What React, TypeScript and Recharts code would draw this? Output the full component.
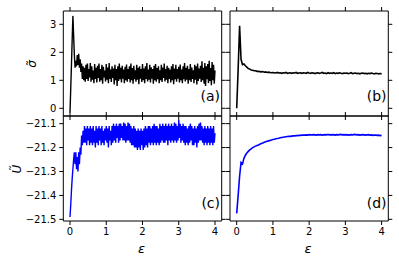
import { LineChart, Line, XAxis, YAxis } from 'recharts'

// strain grid (x) for the noisy runs and the smooth runs
const epsFine = Array.from({ length: 201 }, (_, i) => +(i * 0.02).toFixed(2))
const epsCoarse = Array.from({ length: 101 }, (_, i) => +(i * 0.04).toFixed(2))

const xTicks = [0, 1, 2, 3, 4]
const sigmaTicks = [0, 1, 2, 3]
const energyTicks = [-21.5, -21.4, -21.3, -21.2, -21.1]

// (a) noisy stress
const sigmaNoisy = [
  -0.15, 0.7, 1.55, 2.45, 3.3, 2.6, 1.9, 1.45, 1.7, 1.5,
  1.9, 1.55, 1.95, 1.45, 1.75, 1.3, 1.6, 1.05, 1.5, 1.0,
  1.45, 0.95, 1.55, 1.05, 1.6, 0.98, 1.4, 1.1, 1.62, 0.95,
  1.5, 1.02, 1.35, 0.9, 1.58, 1.05, 1.45, 0.92, 1.52, 1.08,
  1.6, 0.95, 1.4, 1.0, 1.55, 0.88, 1.48, 1.1, 1.35, 0.96,
  1.58, 1.02, 1.46, 0.9, 1.62, 1.05, 1.38, 0.94, 1.5, 1.08,
  1.42, 0.85, 1.55, 1.0, 1.4, 0.8, 1.5, 0.98, 1.6, 1.04,
  1.45, 0.92, 1.52, 1.06, 1.38, 0.9, 1.48, 1.0, 1.56, 0.95,
  1.4, 1.05, 1.5, 0.92, 1.6, 1.0, 1.44, 0.88, 1.52, 1.04,
  1.36, 0.95, 1.55, 1.02, 1.45, 0.86, 1.5, 1.06, 1.4, 0.94,
  1.58, 1.0, 1.42, 0.9, 1.5, 1.05, 1.62, 0.96, 1.38, 1.02,
  1.55, 0.92, 1.46, 1.06, 1.4, 0.88, 1.52, 1.0, 1.58, 0.95,
  1.44, 1.04, 1.5, 0.9, 1.36, 1.0, 1.55, 0.94, 1.46, 1.08,
  1.6, 0.96, 1.4, 1.02, 1.52, 0.9, 1.45, 1.05, 1.38, 0.92,
  1.5, 1.0, 1.58, 0.86, 1.42, 1.04, 1.55, 0.95, 1.4, 1.06,
  1.48, 0.92, 1.56, 1.0, 1.38, 0.9, 1.5, 1.04, 1.62, 0.96,
  1.45, 1.02, 1.52, 0.88, 1.4, 1.0, 1.58, 0.94, 1.46, 1.05,
  1.36, 0.9, 1.55, 1.02, 1.5, 0.85, 1.6, 0.98, 1.42, 1.06,
  1.52, 0.94, 1.68, 1.0, 1.45, 0.88, 1.62, 0.8, 1.5, 1.04,
  1.58, 0.9, 1.7, 0.98, 1.44, 0.82, 1.65, 1.0, 1.55, 0.88,
  1.35,
]

// (b) averaged stress
const sigmaSmooth = [
  0, 1.4, 2.95, 1.75, 1.56, 1.58, 1.52, 1.47, 1.42, 1.4,
  1.37, 1.36, 1.34, 1.34, 1.32, 1.32, 1.31, 1.3, 1.31, 1.29,
  1.3, 1.28, 1.29, 1.28, 1.27, 1.28,
  1.27, 1.26, 1.28, 1.26, 1.27, 1.25, 1.27, 1.26, 1.28, 1.25,
  1.26, 1.27, 1.25, 1.27, 1.26, 1.28, 1.25, 1.26, 1.27, 1.25,
  1.27, 1.26, 1.25, 1.28, 1.26, 1.25, 1.27, 1.26, 1.24, 1.26,
  1.27, 1.25, 1.26, 1.28, 1.25, 1.26, 1.24, 1.27, 1.25, 1.26,
  1.25, 1.27, 1.24, 1.26, 1.25, 1.27, 1.25, 1.24, 1.26, 1.25,
  1.26, 1.24, 1.25, 1.27, 1.24, 1.25, 1.26, 1.24, 1.25, 1.23,
  1.25, 1.26, 1.24, 1.25, 1.23, 1.25, 1.24, 1.26, 1.24, 1.23,
  1.25, 1.24, 1.23, 1.24, 1.23,
]

// (c) noisy energy
const energyNoisy = [
  -21.49, -21.44, -21.38, -21.33, -21.29, -21.25, -21.22, -21.27, -21.22, -21.29,
  -21.24, -21.3, -21.22, -21.27, -21.2, -21.23, -21.15, -21.19, -21.13, -21.18,
  -21.11, -21.18, -21.12, -21.19, -21.11, -21.17, -21.12, -21.19, -21.11, -21.18,
  -21.12, -21.19, -21.11, -21.18, -21.13, -21.2, -21.11, -21.18, -21.12, -21.19,
  -21.11, -21.17, -21.12, -21.19, -21.11, -21.18, -21.13, -21.19, -21.12, -21.17,
  -21.11, -21.18, -21.12, -21.2, -21.11, -21.17, -21.13, -21.19, -21.11, -21.18,
  -21.1, -21.17, -21.11, -21.18, -21.1, -21.16, -21.11, -21.18, -21.1, -21.17,
  -21.1, -21.16, -21.11, -21.17, -21.095, -21.17, -21.1, -21.18, -21.11, -21.17,
  -21.095, -21.17, -21.1, -21.18, -21.11, -21.19, -21.12, -21.19, -21.11, -21.2,
  -21.12, -21.2, -21.13, -21.21, -21.12, -21.2, -21.13, -21.21, -21.12, -21.19,
  -21.13, -21.21, -21.12, -21.2, -21.11, -21.19, -21.12, -21.2, -21.11, -21.18,
  -21.11, -21.19, -21.12, -21.18, -21.11, -21.19, -21.1, -21.18, -21.11, -21.19,
  -21.11, -21.18, -21.12, -21.19, -21.1, -21.18, -21.11, -21.17, -21.1, -21.18,
  -21.11, -21.18, -21.1, -21.17, -21.11, -21.19, -21.1, -21.17, -21.11, -21.18,
  -21.1, -21.17, -21.11, -21.18, -21.095, -21.17, -21.1, -21.18, -21.11, -21.17,
  -21.085, -21.16, -21.1, -21.18, -21.11, -21.17, -21.1, -21.18, -21.11, -21.19,
  -21.11, -21.18, -21.12, -21.19, -21.11, -21.18, -21.1, -21.17, -21.11, -21.19,
  -21.12, -21.19, -21.11, -21.18, -21.12, -21.2, -21.11, -21.18, -21.1, -21.17,
  -21.095, -21.17, -21.11, -21.18, -21.12, -21.19, -21.11, -21.18, -21.12, -21.19,
  -21.11, -21.18, -21.12, -21.19, -21.11, -21.18, -21.12, -21.19, -21.11, -21.18,
  -21.14,
]

// (d) averaged energy
const energySmooth = [
  -21.475, -21.4, -21.32, -21.262, -21.268, -21.245, -21.232, -21.223, -21.216, -21.21,
  -21.205, -21.2, -21.197, -21.194, -21.191, -21.189, -21.186, -21.183, -21.181, -21.178,
  -21.176, -21.174, -21.172, -21.17, -21.168, -21.166,
  -21.165, -21.163, -21.162, -21.161, -21.159, -21.158, -21.157, -21.156, -21.155, -21.154,
  -21.153, -21.153, -21.152, -21.151, -21.151, -21.15, -21.15, -21.149, -21.149, -21.148,
  -21.148, -21.148, -21.147, -21.148, -21.146, -21.147, -21.147, -21.146, -21.147, -21.148,
  -21.146, -21.147, -21.146, -21.148, -21.147, -21.146, -21.147, -21.145, -21.147, -21.146,
  -21.147, -21.146, -21.148, -21.146, -21.147, -21.146, -21.145, -21.147, -21.146, -21.147,
  -21.146, -21.148, -21.147, -21.146, -21.147, -21.145, -21.146, -21.147, -21.146, -21.148,
  -21.147, -21.146, -21.147, -21.148, -21.147, -21.146, -21.148, -21.147, -21.149, -21.148,
  -21.148, -21.149, -21.148, -21.15, -21.149,
]

const W = 399
const H = 263
const FONT = 'DejaVu Sans'

const toRows = (xs: number[], ys: number[]) => xs.map((x, i) => ({ eps: x, v: ys[i] }))

const noTick = () => <g />
const minus = (s: string) => s.replace('-', '\u2212')

type PanelProps = {
  rows: { eps: number; v: number }[]
  color: string
  width: number
  left: number
  right: number
  top: number
  bottom: number
  yDomain: [number, number]
  yTicks: number[]
  yFmt: (v: number) => string
  showY: boolean
  showX: boolean
}

const Panel = ({ rows, color, width, left, right, top, bottom, yDomain, yTicks, yFmt, showY, showX }: PanelProps) => {
  const tickStyle = { fill: '#000', fontSize: 10, fontFamily: FONT }
  return (
    <div style={{ position: 'absolute', left: 0, top: 0 }}>
      <LineChart
        width={W}
        height={H}
        data={rows}
        margin={{ top: top - 6, bottom: H - bottom - 20, left: left - 40, right: W - right - 6 }}
      >
        <XAxis
          xAxisId="b"
          dataKey="eps"
          type="number"
          orientation="bottom"
          domain={[-0.185, 4.185]}
          ticks={xTicks}
          allowDataOverflow
          interval={0}
          height={20}
          tickSize={4}
          tickMargin={3}
          stroke="#000"
          tick={showX ? tickStyle : noTick}
        />
        <XAxis
          xAxisId="t"
          dataKey="eps"
          type="number"
          orientation="top"
          domain={[-0.185, 4.185]}
          ticks={xTicks}
          allowDataOverflow
          interval={0}
          height={6}
          tickSize={4}
          stroke="#000"
          tick={noTick}
        />
        <YAxis
          yAxisId="l"
          type="number"
          orientation="left"
          domain={yDomain}
          ticks={yTicks}
          allowDataOverflow
          interval={0}
          width={40}
          tickSize={4}
          tickMargin={3}
          stroke="#000"
          tickFormatter={yFmt}
          tick={showY ? tickStyle : noTick}
        />
        <YAxis
          yAxisId="r"
          type="number"
          orientation="right"
          domain={yDomain}
          ticks={yTicks}
          allowDataOverflow
          interval={0}
          width={6}
          tickSize={4}
          stroke="#000"
          tick={noTick}
        />
        <Line
          xAxisId="b"
          yAxisId="l"
          dataKey="v"
          type="linear"
          stroke={color}
          strokeWidth={width}
          dot={false}
          activeDot={false}
          isAnimationActive={false}
        />
      </LineChart>
    </div>
  )
}

const sigmaFmt = (v: number) => String(v)
const energyFmt = (v: number) => minus(v.toFixed(1))

const sigmaDomain: [number, number] = [-0.275, 3.475]
const energyDomain: [number, number] = [-21.507, -21.068]

export default function App() {
  const tagStyle = { fontFamily: FONT, fontSize: 14, fill: '#000' }
  const yLabelStyle = { fontFamily: FONT, fontSize: 12, fontStyle: 'italic' as const, fill: '#000' }
  const xLabelStyle = { fontFamily: FONT, fontSize: 13, fontStyle: 'italic' as const, fill: '#000' }
  return (
    <div style={{ position: 'absolute', left: 0, top: 0, width: W, height: H, background: '#fff', fontFamily: FONT }}>
      <Panel rows={toRows(epsFine, sigmaNoisy)} color="#000000" width={1.4} left={63.3} right={221.7} top={11} bottom={116}
        yDomain={sigmaDomain} yTicks={sigmaTicks} yFmt={sigmaFmt} showY showX={false} />
      <Panel rows={toRows(epsCoarse, sigmaSmooth)} color="#000000" width={1.6} left={230} right={388.3} top={11} bottom={116}
        yDomain={sigmaDomain} yTicks={sigmaTicks} yFmt={sigmaFmt} showY={false} showX={false} />
      <Panel rows={toRows(epsFine, energyNoisy)} color="#0000ff" width={1.4} left={63.3} right={221.7} top={116} bottom={221}
        yDomain={energyDomain} yTicks={energyTicks} yFmt={energyFmt} showY showX />
      <Panel rows={toRows(epsCoarse, energySmooth)} color="#0000ff" width={1.6} left={230} right={388.3} top={116} bottom={221}
        yDomain={energyDomain} yTicks={energyTicks} yFmt={energyFmt} showY={false} showX />
      <svg width={W} height={H} style={{ position: 'absolute', left: 0, top: 0, pointerEvents: 'none' }}>
        <text x={220} y={100.5} textAnchor="end" style={tagStyle}>(a)</text>
        <text x={386.5} y={100.5} textAnchor="end" style={tagStyle}>(b)</text>
        <text x={220} y={207.5} textAnchor="end" style={tagStyle}>(c)</text>
        <text x={386.5} y={207.5} textAnchor="end" style={tagStyle}>(d)</text>
        <text x={36} y={64} transform="rotate(-90 36 64)" textAnchor="middle" style={yLabelStyle}>{'\u03c3\u0303'}</text>
        <text x={21} y={169} transform="rotate(-90 21 169)" textAnchor="middle" style={yLabelStyle}>{'\u0168'}</text>
        <text x={141.5} y={253} textAnchor="middle" style={xLabelStyle}>{'\u03b5'}</text>
        <text x={308} y={253} textAnchor="middle" style={xLabelStyle}>{'\u03b5'}</text>
      </svg>
    </div>
  )
}
